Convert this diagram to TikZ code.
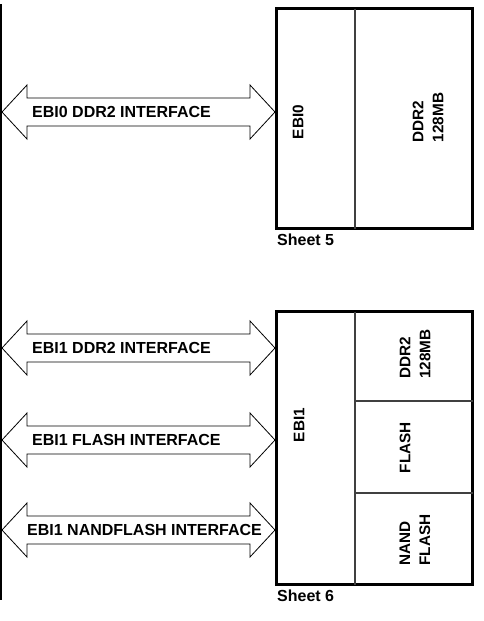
\documentclass[tikz,border=0pt]{standalone}
\usepackage{fontspec}
\setmainfont{Liberation Sans}
\usetikzlibrary{positioning, math}

% bus arrow between the bus line and a memory box: #1 name, #2 height
\newcommand\busarrow[2]{%
  \coordinate (#1l) at (2,#2);
  \coordinate (#1r) at (275,#2);
  \draw[arrowline] (#1l) -- ++(25,-27) -- ++(0,13) -- ++(223,0) -- ++(0,-13)
    -- (#1r) -- ++(-25,27) -- ++(0,-13) -- ++(-223,0) -- ++(0,13) -- cycle;
}

\begin{document}
\begin{tikzpicture}[x=1pt,y=-1pt,
  lbl/.style={font=\bfseries\fontsize{16}{18}\selectfont, inner sep=0},
  vlbl/.style={font=\bfseries\fontsize{15.3}{20}\selectfont, rotate=90, align=left, inner sep=0},
  arrowline/.style={draw, line width=0.8, line join=miter},
  mainbox/.style={draw, line width=3, minimum width=196pt, inner sep=0},
  divline/.style={draw=black!75, line width=1.4}]
\tikzmath{
\xd=355;% column divider
}
\useasboundingbox (0,0) rectangle (483,621);

% system bus
\coordinate (busT) at (1,4);
\coordinate (busB) at (1,600);
\draw[line width=2] (busT) -- (busB);

% sheet 5
\node[mainbox, minimum height=220pt] (ebi0box) at (374.5,118.5) {};
\draw[divline] (\xd,8.5) -- (\xd,228.5);
\node[vlbl] (ebi0) at (298,122) {EBI0};
\node[vlbl] (ddr0) at (428,117.5) {DDR2\\128MB};
\node[lbl, below right=4pt and 2pt of ebi0box.south west] (sh5) {Sheet 5};

\busarrow{a0}{112}
\node[lbl, right=30pt of a0l] {EBI0 DDR2 INTERFACE};

% sheet 6
\node[mainbox, minimum height=273pt] (ebi1box) at (374.5,448) {};
\draw[divline] (\xd,311.5) -- (\xd,584.5);
\draw[divline] (\xd,401) -- (472.5,401);
\draw[divline] (\xd,493) -- (472.5,493);
\node[vlbl] (ebi1) at (299,425) {EBI1};
\node[vlbl] (ddr1) at (415,354) {DDR2\\128MB};
\node[vlbl] (flash) at (405,447.5) {FLASH};
\node[vlbl] (nand) at (415,540) {NAND\\FLASH};
\node[lbl, below right=4pt and 2pt of ebi1box.south west] (sh6) {Sheet 6};

\busarrow{a1}{348}
\node[lbl, right=30pt of a1l] {EBI1 DDR2 INTERFACE};
\busarrow{a2}{440}
\node[lbl, right=30pt of a2l] {EBI1 FLASH INTERFACE};
\busarrow{a3}{530}
\node[lbl, right=25pt of a3l] {EBI1 NANDFLASH INTERFACE};

\end{tikzpicture}
\end{document}
